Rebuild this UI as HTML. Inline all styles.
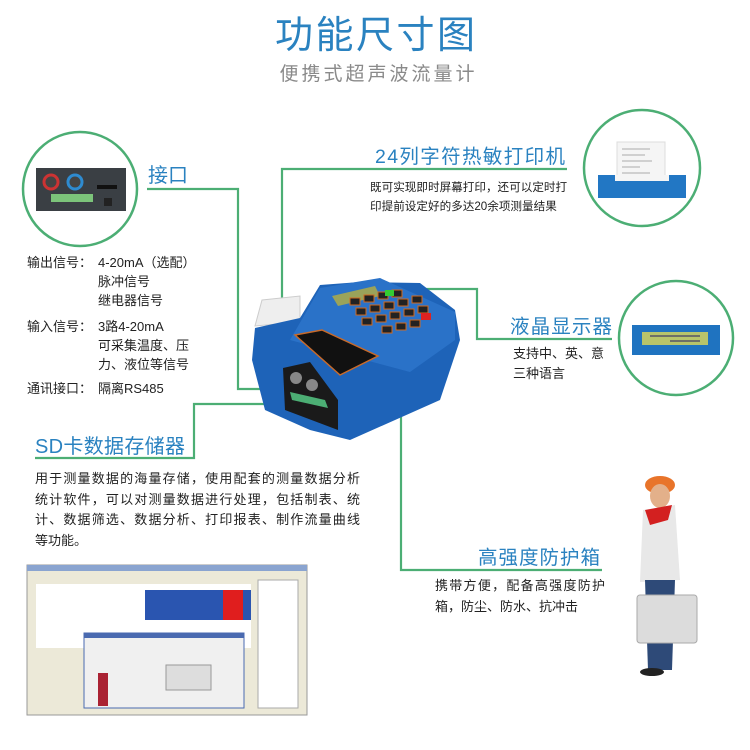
<!DOCTYPE html>
<html><head><meta charset="utf-8">
<style>
html,body{margin:0;padding:0;background:#fff;}
svg{display:block;}
text{font-family:"Liberation Sans","Noto Sans CJK SC",sans-serif;}
</style></head><body>
<svg width="750" height="750" viewBox="0 0 750 750" xmlns="http://www.w3.org/2000/svg">
<rect width="750" height="750" fill="#fff"/>
<!-- title -->
<text x="375" y="48" font-size="38" fill="#2a82c0" text-anchor="middle" textLength="200" lengthAdjust="spacing">功能尺寸图</text>
<text x="377" y="80" font-size="19" fill="#8a8a8a" text-anchor="middle" textLength="195" lengthAdjust="spacing">便携式超声波流量计</text>

<!-- connector lines -->
<g stroke="#4cae74" stroke-width="2.2" fill="none">
<polyline points="147,189 238,189 238,389 287,389"/>
<polyline points="35,458 194,458 194,404 310,404"/>
<polyline points="282,325 282,169 567,169"/>
<polyline points="365,289 477,289 477,339 612,339"/>
<polyline points="401,370 401,570 602,570"/>
</g>

<!-- interface circle -->
<circle cx="80" cy="189" r="57" fill="#fff" stroke="#4cae74" stroke-width="2.5"/>
<rect x="36" y="168" width="90" height="43" fill="#3a3f44"/>
<circle cx="51" cy="182" r="7" fill="#444" stroke="#c33" stroke-width="3"/>
<circle cx="75" cy="182" r="7" fill="#444" stroke="#2e8bd0" stroke-width="3"/>
<rect x="51" y="194" width="42" height="8" fill="#7cc47a"/>
<rect x="97" y="185" width="20" height="4" fill="#111"/>
<rect x="104" y="198" width="8" height="8" fill="#222"/>

<!-- printer circle -->
<circle cx="642" cy="168" r="58" fill="#fff" stroke="#4cae74" stroke-width="2.5"/>
<rect x="617" y="142" width="48" height="42" fill="#f5f5f5" stroke="#ddd"/>
<g stroke="#aaa" stroke-width="1"><line x1="622" y1="149" x2="650" y2="149"/><line x1="622" y1="155" x2="645" y2="155"/><line x1="622" y1="161" x2="652" y2="161"/><line x1="622" y1="167" x2="640" y2="167"/><line x1="622" y1="173" x2="650" y2="173"/></g>
<rect x="598" y="175" width="88" height="23" fill="#2277c4"/>
<rect x="615" y="175" width="54" height="6" fill="#f5f5f5"/>

<!-- LCD circle -->
<circle cx="676" cy="338" r="57" fill="#fff" stroke="#4cae74" stroke-width="2.5"/>
<rect x="632" y="325" width="88" height="30" fill="#1f73c0"/>
<rect x="642" y="332" width="66" height="13" fill="#b8c46a"/>
<line x1="650" y1="336" x2="700" y2="336" stroke="#556" stroke-width="1.5"/>
<line x1="670" y1="341" x2="700" y2="341" stroke="#556" stroke-width="1.5"/>

<!-- device -->
<g>
<path d="M262 300 L300 296 L300 322 L255 326 Z" fill="#eee" stroke="#ccc"/>
<path d="M255 328 L300 318 L320 285 L360 282 L420 283 L455 310 L460 340 L440 400 L350 440 L310 430 L265 410 L252 360 Z" fill="#1e63b8"/>
<path d="M320 288 L380 278 L455 312 L455 340 L410 372 L290 340 Z" fill="#2a72c8"/>
<path d="M332 296 L375 286 L380 296 L338 306 Z" fill="#9aa35a"/>
<g fill="#222" stroke="#d06a20" stroke-width="1">
<rect x="350" y="298" width="10" height="7"/><rect x="364" y="295" width="10" height="7"/><rect x="378" y="292" width="10" height="7"/><rect x="392" y="290" width="10" height="7"/>
<rect x="356" y="308" width="10" height="7"/><rect x="370" y="305" width="10" height="7"/><rect x="384" y="302" width="10" height="7"/><rect x="398" y="299" width="10" height="7"/><rect x="412" y="296" width="10" height="7"/>
<rect x="362" y="318" width="10" height="7"/><rect x="376" y="315" width="10" height="7"/><rect x="390" y="312" width="10" height="7"/><rect x="404" y="309" width="10" height="7"/><rect x="418" y="306" width="10" height="7"/>
<rect x="382" y="326" width="10" height="7"/><rect x="396" y="323" width="10" height="7"/><rect x="410" y="320" width="10" height="7"/>
</g>
<rect x="385" y="290" width="9" height="6" fill="#3c3"/>
<rect x="421" y="313" width="10" height="7" fill="#d22"/>
<path d="M295 335 L322 330 L378 356 L340 375 Z" fill="#111" stroke="#c86a2a" stroke-width="1.5"/>
<path d="M283 368 L310 362 L338 400 L338 430 L285 410 Z" fill="#1a1a1a"/>
<circle cx="296" cy="378" r="6" fill="#888"/><circle cx="312" cy="385" r="6" fill="#888"/>
<path d="M290 392 L325 400 L328 408 L292 400 Z" fill="#4cae74"/>
</g>

<!-- labels -->
<text x="148" y="182" font-size="20" fill="#2a82c0">接口</text>
<text x="375" y="163" font-size="19.5" fill="#2a82c0" textLength="190" lengthAdjust="spacing">24列字符热敏打印机</text>
<text x="370" y="191" font-size="11.6" fill="#222">既可实现即时屏幕打印，还可以定时打</text>
<text x="370" y="210" font-size="11.6" fill="#222">印提前设定好的多达20余项测量结果</text>
<text x="510" y="333" font-size="19.5" fill="#2a82c0" textLength="102" lengthAdjust="spacing">液晶显示器</text>
<text x="513" y="358" font-size="13" fill="#222">支持中、英、意</text>
<text x="513" y="378" font-size="13" fill="#222">三种语言</text>

<g font-size="13" fill="#222">
<text x="27" y="267">输出信号：</text><text x="98" y="267">4-20mA（选配）</text>
<text x="98" y="286">脉冲信号</text>
<text x="98" y="305">继电器信号</text>
<text x="27" y="331">输入信号：</text><text x="98" y="331">3路4-20mA</text>
<text x="98" y="350">可采集温度、压</text>
<text x="98" y="369">力、液位等信号</text>
<text x="27" y="393">通讯接口：</text><text x="98" y="393">隔离RS485</text>
</g>

<text x="35" y="453" font-size="20" fill="#2a82c0" textLength="150" lengthAdjust="spacing">SD卡数据存储器</text>
<g font-size="13" fill="#222">
<text x="35" y="483" textLength="325" lengthAdjust="spacing">用于测量数据的海量存储，使用配套的测量数据分析</text>
<text x="35" y="504" textLength="325" lengthAdjust="spacing">统计软件，可以对测量数据进行处理，包括制表、统</text>
<text x="35" y="524" textLength="325" lengthAdjust="spacing">计、数据筛选、数据分析、打印报表、制作流量曲线</text>
<text x="35" y="545">等功能。</text>
</g>

<text x="478" y="564" font-size="19.5" fill="#2a82c0" textLength="122" lengthAdjust="spacing">高强度防护箱</text>
<text x="435" y="590" font-size="13" fill="#222" textLength="170" lengthAdjust="spacing">携带方便，配备高强度防护</text>
<text x="435" y="611" font-size="13" fill="#222">箱，防尘、防水、抗冲击</text>

<!-- screenshot -->
<rect x="27" y="565" width="280" height="150" fill="#ece9d8" stroke="#999"/>
<rect x="27" y="565" width="280" height="6" fill="#8aa4d0"/>
<rect x="36" y="584" width="215" height="64" fill="#fff"/>
<rect x="145" y="590" width="106" height="30" fill="#2a55b0"/>
<rect x="223" y="590" width="20" height="30" fill="#e01e1e"/>
<rect x="258" y="580" width="40" height="128" fill="#fff" stroke="#aaa"/>
<rect x="84" y="633" width="160" height="75" fill="#f0f0f0" stroke="#4a6ab0"/>
<rect x="84" y="633" width="160" height="5" fill="#4a6ab0"/>
<rect x="98" y="673" width="10" height="33" fill="#aa2233"/>
<rect x="166" y="665" width="45" height="25" fill="#ddd" stroke="#999"/>

<!-- person -->
<ellipse cx="660" cy="485" rx="15" ry="9" fill="#e8742a"/>
<ellipse cx="660" cy="496" rx="10" ry="12" fill="#e3b08a"/>
<path d="M643 510 L675 505 L680 580 L640 582 Z" fill="#e8e8e8"/>
<path d="M645 510 L672 505 L668 520 L650 525 Z" fill="#d32020"/>
<path d="M645 580 L675 580 L672 670 L648 670 Z" fill="#2e4a78"/>
<rect x="637" y="595" width="60" height="48" rx="3" fill="#dcdcdc" stroke="#aaa"/>
<ellipse cx="652" cy="672" rx="12" ry="4" fill="#222"/>
</svg>
</body></html>
